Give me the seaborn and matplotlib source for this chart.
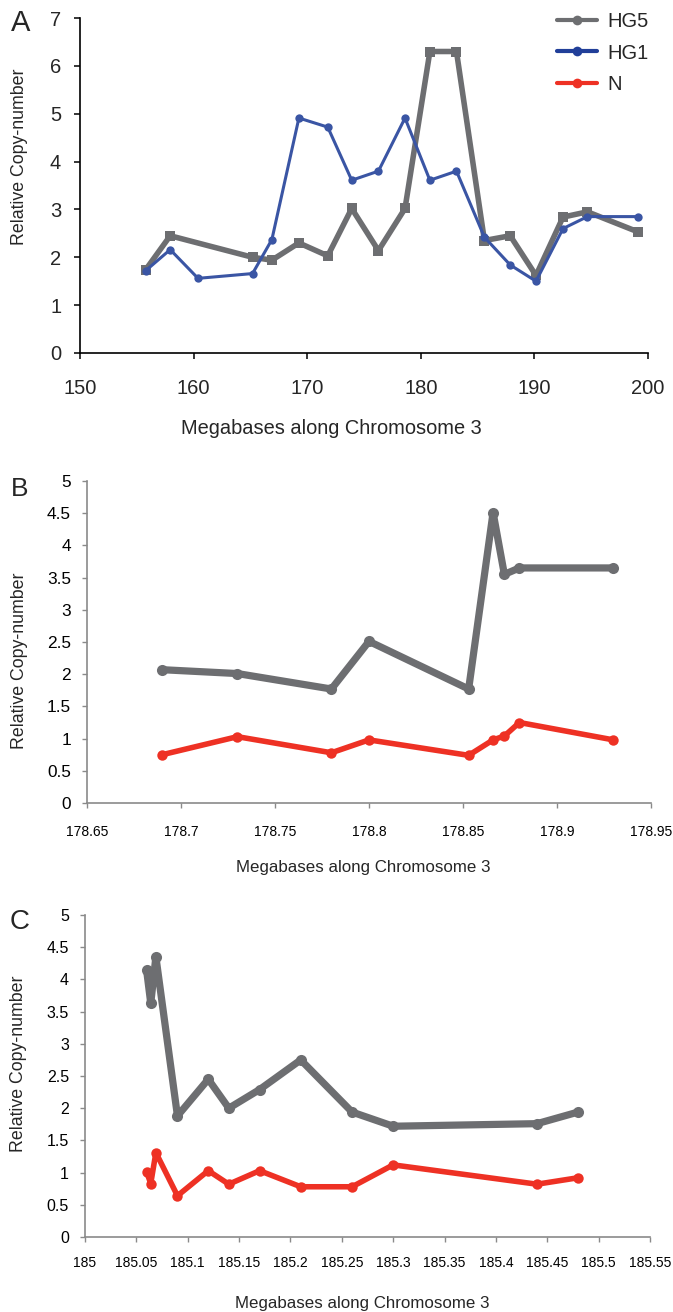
import matplotlib
matplotlib.use("Agg")
import matplotlib.pyplot as plt
from matplotlib.lines import Line2D
from matplotlib.ticker import FuncFormatter
import seaborn as sns
import pandas as pd
import numpy as np

# ---------------- data ----------------
# Panel A
a_hg5_x = [155.78, 157.94, 165.19, 166.89, 169.27, 171.81, 173.92, 176.27, 178.61,
           180.80, 183.14, 185.60, 187.87, 190.14, 192.52, 194.67, 199.13]
a_hg5_y = [1.74, 2.45, 2.00, 1.94, 2.30, 2.03, 3.02, 2.14, 3.02,
           6.30, 6.30, 2.35, 2.45, 1.62, 2.84, 2.95, 2.53]
a_hg1_x = [155.78, 157.94, 160.39, 165.19, 166.89, 169.27, 171.81, 173.92, 176.27,
           178.61, 180.80, 183.14, 185.60, 187.87, 190.14, 192.52, 194.67, 199.13]
a_hg1_y = [1.72, 2.16, 1.56, 1.66, 2.37, 4.91, 4.72, 3.61, 3.80,
           4.91, 3.61, 3.80, 2.42, 1.84, 1.50, 2.60, 2.85, 2.85]

# Panel B
b_x = [178.690, 178.730, 178.780, 178.800, 178.853, 178.866, 178.872, 178.880, 178.930]
b_hg5_y = [2.07, 2.01, 1.77, 2.51, 1.77, 4.51, 3.55, 3.65, 3.65]
b_n_y = [0.75, 1.03, 0.78, 0.98, 0.74, 0.98, 1.04, 1.25, 0.98]

# Panel C
c_x = [185.060, 185.064, 185.069, 185.090, 185.120, 185.140, 185.170, 185.210,
       185.260, 185.300, 185.440, 185.480]
c_hg5_y = [4.14, 3.63, 4.35, 1.88, 2.45, 2.00, 2.29, 2.75, 1.94, 1.72, 1.76, 1.94]
c_n_y = [1.01, 0.83, 1.31, 0.64, 1.03, 0.82, 1.03, 0.78, 0.78, 1.12, 0.82, 0.92]

series_names = ["HG5", "HG1", "N"]
a_xticks = [150, 160, 170, 180, 190, 200]
a_yticks = [0, 1, 2, 3, 4, 5, 6, 7]
b_xticks = [178.65, 178.70, 178.75, 178.80, 178.85, 178.90, 178.95]
c_xticks = [185.00, 185.05, 185.10, 185.15, 185.20, 185.25, 185.30, 185.35,
            185.40, 185.45, 185.50, 185.55]
bc_yticks = [0, 0.5, 1, 1.5, 2, 2.5, 3, 3.5, 4, 4.5, 5]

xlabel = "Megabases along Chromosome 3"
ylabel = "Relative Copy-number"

GREY = "#6d6e71"
BLUE = "#3a55a4"
BLUE_LEG = "#213f99"
RED = "#ee3124"
AXGREY = "#8a8a8a"

# ---------------- style ----------------
sns.set_style("white")
plt.rcParams["font.family"] = ["Liberation Sans", "DejaVu Sans"]

W, H = 673, 1312
fig = plt.figure(figsize=(W / 100, H / 100), dpi=100)


def fig_axes(left, right, top, bottom):
    return fig.add_axes([left / W, 1 - bottom / H, (right - left) / W, (bottom - top) / H])


fmt = FuncFormatter(lambda v, p: ("%.2f" % v).rstrip("0").rstrip("."))

# ---------------- Panel A ----------------
axA = fig_axes(80, 648, 18, 353)
dfA5 = pd.DataFrame({"x": a_hg5_x, "y": a_hg5_y})
dfA1 = pd.DataFrame({"x": a_hg1_x, "y": a_hg1_y})
sns.lineplot(data=dfA5, x="x", y="y", ax=axA, color=GREY, linewidth=4.0,
             marker="s", markersize=6.5, markeredgewidth=0, estimator=None,
             sort=False, legend=False, zorder=2)
sns.lineplot(data=dfA1, x="x", y="y", ax=axA, color=BLUE, linewidth=2.2,
             marker="o", markersize=6, markeredgewidth=0, estimator=None,
             sort=False, legend=False, zorder=3)
axA.set_xlim(150, 200)
axA.set_ylim(0, 7)
axA.set_xticks(a_xticks)
axA.set_yticks(a_yticks)
for s in ["top", "right"]:
    axA.spines[s].set_visible(False)
for s in ["left", "bottom"]:
    axA.spines[s].set_color("black")
    axA.spines[s].set_linewidth(1.2)
axA.tick_params(axis="both", direction="out", length=4.5, width=1.1, color="black",
                labelsize=14.5, left=True, bottom=True)
axA.tick_params(axis="x", pad=14)
axA.tick_params(axis="y", pad=9)
axA.set_xlabel(xlabel, fontsize=14.4)
axA.set_ylabel(ylabel, fontsize=12.8)
axA.xaxis.set_label_coords(0.442, -0.224)
axA.xaxis.label.set_va("center")
axA.yaxis.set_label_coords(-0.107, 0.585)
axA.yaxis.label.set_va("center")
fig.text(21 / W, 1 - 23 / H, "A", fontsize=21, ha="center", va="center")

handles = [
    Line2D([0], [0], color=GREY, lw=3.0, marker="o", markersize=7, markeredgewidth=0),
    Line2D([0], [0], color=BLUE_LEG, lw=3.0, marker="o", markersize=7, markeredgewidth=0),
    Line2D([0], [0], color=RED, lw=3.0, marker="o", markersize=7, markeredgewidth=0),
]
fig.legend(handles, series_names, loc="upper left", bbox_to_anchor=(549 / W, 1 - 4 / H),
           frameon=False, fontsize=14.5, handlelength=2.0, handletextpad=0.5,
           labelspacing=0.62, borderaxespad=0)


def style_bc(ax, xticks, xsize, ysize, xpad):
    ax.set_ylim(0, 5)
    ax.set_xticks(xticks)
    ax.set_yticks(bc_yticks)
    ax.xaxis.set_major_formatter(fmt)
    ax.yaxis.set_major_formatter(fmt)
    for s in ["top", "right"]:
        ax.spines[s].set_visible(False)
    for s in ["left", "bottom"]:
        ax.spines[s].set_color(AXGREY)
        ax.spines[s].set_linewidth(1.2)
    ax.tick_params(axis="both", direction="out", length=3.5, width=1.0, color=AXGREY,
                   labelcolor="black", left=True, bottom=True)
    ax.tick_params(axis="x", pad=xpad, labelsize=xsize)
    ax.tick_params(axis="y", pad=8, labelsize=ysize)


# ---------------- Panel B ----------------
axB = fig_axes(87, 651, 481, 803)
dfB = pd.DataFrame({"x": b_x, "hg5": b_hg5_y, "n": b_n_y})
sns.lineplot(data=dfB, x="x", y="hg5", ax=axB, color=GREY, linewidth=5.2,
             marker="o", markersize=8, markeredgewidth=0, estimator=None,
             sort=False, legend=False)
sns.lineplot(data=dfB, x="x", y="n", ax=axB, color=RED, linewidth=4.0,
             marker="o", markersize=7.5, markeredgewidth=0, estimator=None,
             sort=False, legend=False)
axB.set_xlim(178.65, 178.95)
style_bc(axB, b_xticks, 10.0, 12.4, 12)
axB.set_xlabel(xlabel, fontsize=12.2)
axB.set_ylabel(ylabel, fontsize=12.8)
axB.xaxis.set_label_coords(0.49, -0.199)
axB.xaxis.label.set_va("center")
axB.yaxis.set_label_coords(-0.120, 0.441)
axB.yaxis.label.set_va("center")
fig.text(20 / W, 1 - 489 / H, "B", fontsize=19, ha="center", va="center")

# ---------------- Panel C ----------------
axC = fig_axes(85, 650, 915, 1237)
dfC = pd.DataFrame({"x": c_x, "hg5": c_hg5_y, "n": c_n_y})
sns.lineplot(data=dfC, x="x", y="hg5", ax=axC, color=GREY, linewidth=5.2,
             marker="o", markersize=8, markeredgewidth=0, estimator=None,
             sort=False, legend=False)
sns.lineplot(data=dfC, x="x", y="n", ax=axC, color=RED, linewidth=4.0,
             marker="o", markersize=7.5, markeredgewidth=0, estimator=None,
             sort=False, legend=False)
axC.set_xlim(185.0, 185.55)
style_bc(axC, c_xticks, 10.0, 11.5, 10)
axC.set_xlabel(xlabel, fontsize=12.2)
axC.set_ylabel(ylabel, fontsize=12.8)
axC.xaxis.set_label_coords(0.49, -0.205)
axC.xaxis.label.set_va("center")
axC.yaxis.set_label_coords(-0.117, 0.537)
axC.yaxis.label.set_va("center")
fig.text(20 / W, 1 - 922 / H, "C", fontsize=20, ha="center", va="center")

fig.savefig("out.png", dpi=100)
